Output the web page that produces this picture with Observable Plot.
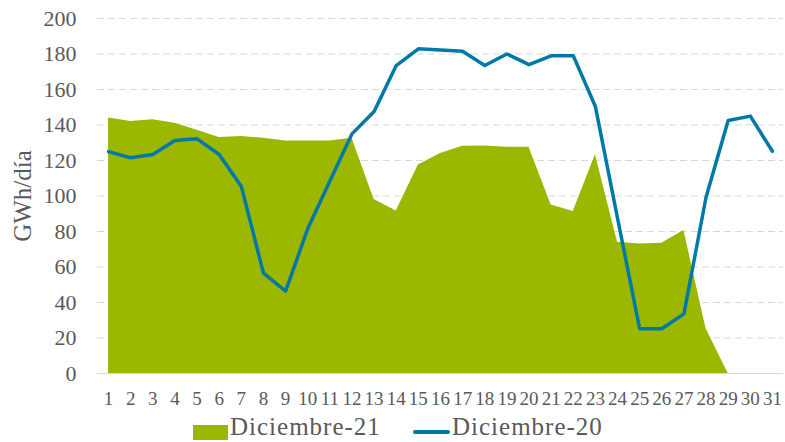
<!DOCTYPE html>
<html>
<head>
<meta charset="utf-8">
<script src="https://cdn.jsdelivr.net/npm/d3@7"></script>
<script src="https://cdn.jsdelivr.net/npm/@observablehq/plot@0.6"></script>
<style>
  body { margin: 0; background: white; font-family: "Liberation Serif", serif; }
  #chart svg { display: block; }
  #legend { position: relative; width: 785px; height: 30px; color: #595959; }
  #legend .sw { position: absolute; }
  #legend .lbl { position: absolute; font-size: 25px; line-height: 28px; letter-spacing: 1px; white-space: nowrap; }
</style>
</head>
<body>
<div id="chart"></div>
<div id="legend">
  <div class="sw" style="left:193px; top:13px; width:35px; height:15px; background:#9bb700;"></div>
  <div class="lbl" style="left:230px; top:1px;">Diciembre-21</div>
  <div class="sw" style="left:413px; top:18px; width:37px; height:4px; border-radius:2px; background:#0078a8;"></div>
  <div class="lbl" style="left:452px; top:1px;">Diciembre-20</div>
</div>
<script>
const days = [1,2,3,4,5,6,7,8,9,10,11,12,13,14,15,16,17,18,19,20,21,22,23,24,25,26,27,28,29,30,31];
const dic21 = [144,142,143,141,137,133,133.5,132.5,131,131,131,132.5,98,91.5,117.5,124,128,128.2,127.5,127.5,95,91.3,123.2,74,73,73.4,80.6,25.2,0];
const dic20 = [125,121.5,123.4,131.3,132.2,123.4,105.4,56.5,46.4,81.5,108.5,135,147.6,173.5,182.9,182.3,181.6,173.5,180,174,179,179,150.4,87.5,25.2,25.2,33.6,99.3,142.5,145,125.2];
const yTicks = [0,20,40,60,80,100,120,140,160,180,200];
const yLabel = "GWh/día";

const d21 = dic21.map((v, i) => ({day: days[i], v}));
const d20 = dic20.map((v, i) => ({day: days[i], v}));

const chart = Plot.plot({
  width: 785,
  height: 412,
  marginTop: 18,
  marginBottom: 39,
  marginLeft: 97,
  marginRight: 2,
  x: {domain: [0.5, 31.5]},
  y: {domain: [0, 200]},
  style: {fontFamily: "Liberation Serif", color: "#595959", background: "white"},
  marks: [
    Plot.ruleY(yTicks.filter(t => t > 0), {stroke: "#d9d9d9", strokeDasharray: "7,4"}),
    Plot.areaY(d21, {x: "day", y: "v", fill: "#9bb700"}),
    Plot.ruleY([0], {stroke: "#d9d9d9"}),
    Plot.lineY(d20, {x: "day", y: "v", stroke: "#0078a8", strokeWidth: 3.5, strokeLinejoin: "round"}),
    Plot.axisY({ticks: yTicks, tickSize: 0, tickPadding: 21, fontSize: 22, label: null}),
    Plot.axisX({ticks: days, tickSize: 0, tickPadding: 18, fontSize: 19, label: null, tickFormat: d => String(d)}),
    Plot.text([yLabel], {frameAnchor: "left", textAnchor: "middle", dx: -75, rotate: -90, fontSize: 25, fontFamily: "Liberation Serif", fill: "#595959"})
  ]
});
document.getElementById("chart").appendChild(chart);
</script>
</body>
</html>
